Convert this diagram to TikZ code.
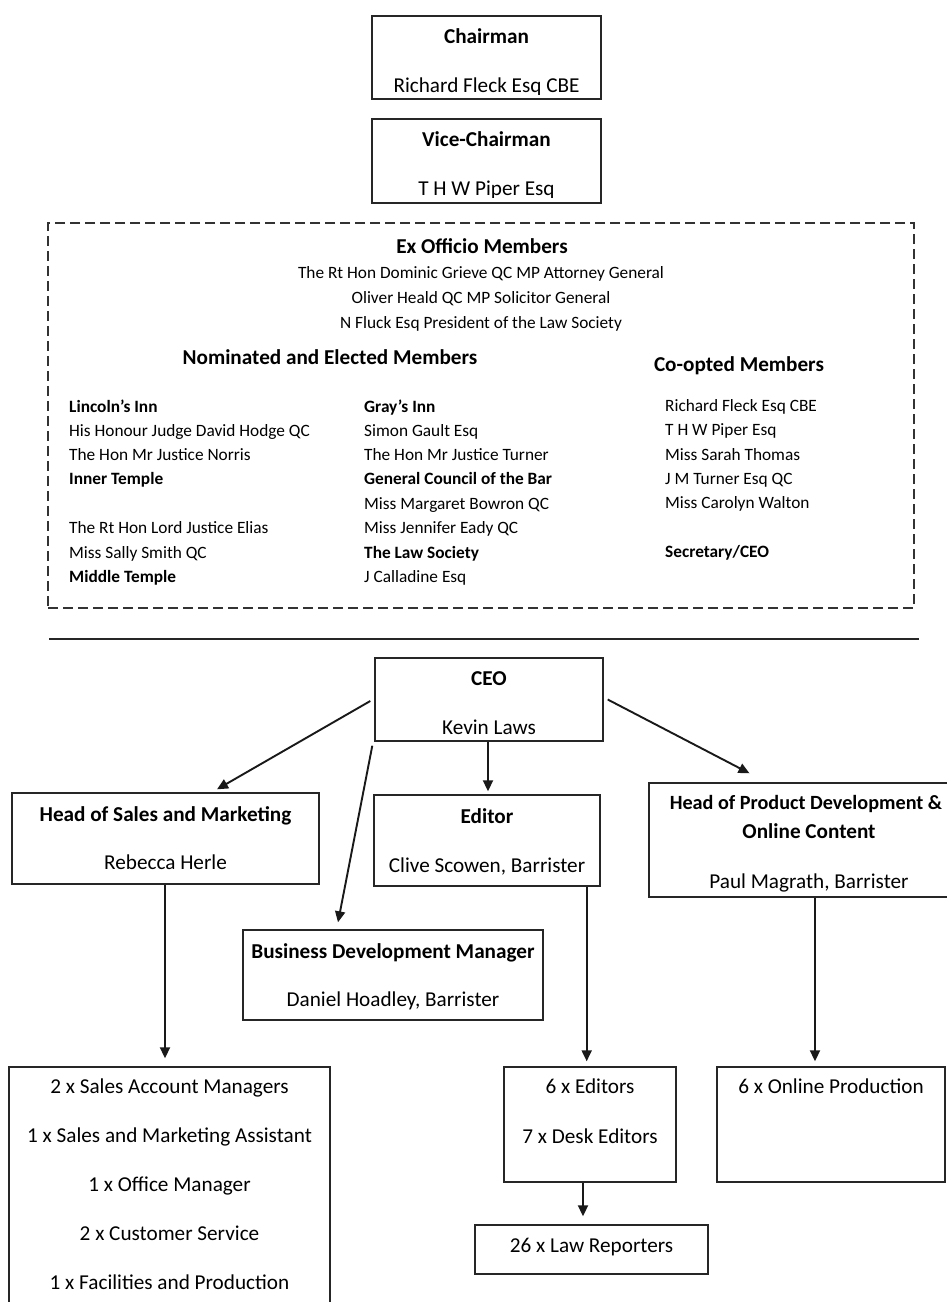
\documentclass[tikz,border=0pt]{standalone}
\usepackage{fontspec}
\setmainfont{Carlito}
\usetikzlibrary{arrows.meta,calc}
\begin{document}
\begin{tikzpicture}[x=1pt,y=-1pt,
  box/.style={draw=black!85,line width=1.4pt,rectangle,inner sep=0pt},
  dbox/.style={draw=black!80,line width=1.5pt,rectangle,inner sep=0pt,dash pattern=on 10pt off 5pt},
  big/.style={font=\fontsize{21.2}{25}\selectfont,anchor=base,inner sep=0pt},
  bigb/.style={font=\fontsize{21.2}{25}\selectfont\bfseries,anchor=base,inner sep=0pt},
  sm/.style={font=\fontsize{17.3}{20}\selectfont,anchor=base west,inner sep=0pt},
  smb/.style={font=\fontsize{17.3}{20}\selectfont\bfseries,anchor=base west,inner sep=0pt},
  smc/.style={font=\fontsize{17.3}{20}\selectfont,anchor=base,inner sep=0pt},
  arr/.style={line width=1.9pt,draw=black!90,-{Triangle[length=11pt,width=10pt]}}]
\clip (0,0) rectangle (947,1302);
\fill[white] (0,0) rectangle (947,1302);
% boxes
\node[box,minimum width=229pt,minimum height=83pt] (chair) at (486.5,57.5) {};
\node[box,minimum width=229pt,minimum height=84pt] (vice) at (486.5,161) {};
\node[dbox,minimum width=866pt,minimum height=385pt] (board) at (481,415.5) {};
\node[box,minimum width=228pt,minimum height=83pt] (ceo) at (489,699.5) {};
\node[box,minimum width=307pt,minimum height=91pt] (hsm) at (165.5,838.5) {};
\node[box,minimum width=226pt,minimum height=91pt] (editor) at (487,840.5) {};
\node[box,minimum width=320pt,minimum height=114pt] (prod) at (809,840) {};
\node[box,minimum width=300pt,minimum height=90pt] (bdm) at (393,975) {};
\node[box,minimum width=321pt,minimum height=253pt] (staff) at (169.5,1193.5) {};
\node[box,minimum width=172pt,minimum height=115pt] (eds) at (590,1124.5) {};
\node[box,minimum width=228pt,minimum height=115pt] (online) at (831,1124.5) {};
\node[box,minimum width=233pt,minimum height=49pt] (law) at (591.5,1249.5) {};
% top texts
\node[bigb] (tchair) at (486.5,43) {Chairman};
\begin{scope}
\clip (372,17) rectangle (601,94);
\node[big] (tfleck) at (486.5,92) {Richard Fleck Esq CBE};
\end{scope}
\node[bigb] (tvice) at (486.5,146) {Vice-Chairman};
\begin{scope}
\clip (372,120) rectangle (601,197);
\node[big] (tpiper) at (486.5,195) {T H W Piper Esq};
\end{scope}
% board
\node[bigb] (hex) at (482,253) {Ex Officio Members};
\node[smc] (ex1) at (481,278) {The Rt Hon Dominic Grieve QC MP Attorney General};
\node[smc] (ex2) at (481,303) {Oliver Heald QC MP Solicitor General};
\node[smc] (ex3) at (481,328) {N Fluck Esq President of the Law Society};
\node[bigb] (hnom) at (330,364) {Nominated and Elected Members};
\node[bigb] (hco) at (739,371) {Co-opted Members};
% left column
\node[smb] (l1) at (69,412) {Lincoln’s Inn};
\node[sm] (l2) at (69,436) {His Honour Judge David Hodge QC};
\node[sm] (l3) at (69,460) {The Hon Mr Justice Norris};
\node[smb] (l4) at (69,484) {Inner Temple};
\node[sm] (l5) at (69,533) {The Rt Hon Lord Justice Elias};
\node[sm] (l6) at (69,558) {Miss Sally Smith QC};
\node[smb] (l7) at (69,582) {Middle Temple};
% middle column
\node[smb] (m1) at (364,412) {Gray’s Inn};
\node[sm] (m2) at (364,436) {Simon Gault Esq};
\node[sm] (m3) at (364,460) {The Hon Mr Justice Turner};
\node[smb] (m4) at (364,484) {General Council of the Bar};
\node[sm] (m5) at (364,509) {Miss Margaret Bowron QC};
\node[sm] (m6) at (364,533) {Miss Jennifer Eady QC};
\node[smb] (m7) at (364,558) {The Law Society};
\node[sm] (m8) at (364,582) {J Calladine Esq};
% right column
\node[sm] (r1) at (665,411) {Richard Fleck Esq CBE};
\node[sm] (r2) at (665,435) {T H W Piper Esq};
\node[sm] (r3) at (665,460) {Miss Sarah Thomas};
\node[sm] (r4) at (665,484) {J M Turner Esq QC};
\node[sm] (r5) at (665,508) {Miss Carolyn Walton};
\node[smb] (r6) at (665,557) {Secretary/CEO};
% rule
\coordinate (ruleA) at (49,639);
\coordinate (ruleB) at (919,639);
\draw[line width=1.5pt,draw=black!85] (ruleA) -- (ruleB);
% lower texts
\node[bigb] (tceo) at (489,685) {CEO};
\node[big] (tlaws) at (489,734) {Kevin Laws};
\node[bigb] (thsm) at (165.5,821) {Head of Sales and Marketing};
\node[big] (therle) at (165.5,869) {Rebecca Herle};
\node[bigb] (ted) at (487,823) {Editor};
\node[big] (tscowen) at (487,872) {Clive Scowen, Barrister};
\node[bigb,font=\fontsize{20.2}{24}\selectfont\bfseries] (tprod1) at (806,809) {Head of Product Development \&};
\node[bigb] (tprod2) at (809,838) {Online Content};
\node[big] (tmag) at (809,888) {Paul Magrath, Barrister};
\node[bigb] (tbdm) at (393,958) {Business Development Manager};
\node[big] (thoad) at (393,1006) {Daniel Hoadley, Barrister};
\node[big] (s1) at (169.5,1093) {2 x Sales Account Managers};
\node[big] (s2) at (169.5,1142) {1 x Sales and Marketing Assistant};
\node[big] (s3) at (169.5,1191) {1 x Office Manager};
\node[big] (s4) at (169.5,1240) {2 x Customer Service};
\node[big] (s5) at (169.5,1289) {1 x Facilities and Production};
\node[big] (e1) at (590,1093) {6 x Editors};
\node[big] (e2) at (590,1143) {7 x Desk Editors};
\node[big] (o1) at (831,1093) {6 x Online Production};
\node[big] (lr) at (591.5,1252) {26 x Law Reporters};
% connectors
\draw[arr] ($(ceo.west)+(-4,1.5)$) -- ($(hsm.north)+(51.5,-3)$);
\draw[arr] ($(ceo.south west)+(-2,4)$) -- ($(bdm.north)+(-55,-7)$);
\draw[arr] ($(ceo.south)+(-1,0)$) -- ($(editor.north)+(1,-3)$);
\draw[arr] ($(ceo.east)+(4,0)$) -- ($(prod.north)+(-59.5,-9)$);
\coordinate (hs) at ($(hsm.south)+(-0.5,0)$);
\draw[arr] (hs) -- ($(hs |- staff.north)+(0,-8)$);
\coordinate (es) at ($(editor.south east)+(-14,0)$);
\draw[arr] (es) -- ($(es |- eds.north)+(0,-5)$);
\coordinate (ds) at ($(eds.south)+(-7,0)$);
\draw[arr] (ds) -- ($(ds |- law.north)+(0,-8)$);
\coordinate (ps) at ($(prod.south)+(6,0)$);
\draw[arr] (ps) -- ($(ps |- online.north)+(0,-5)$);
\end{tikzpicture}
\end{document}
